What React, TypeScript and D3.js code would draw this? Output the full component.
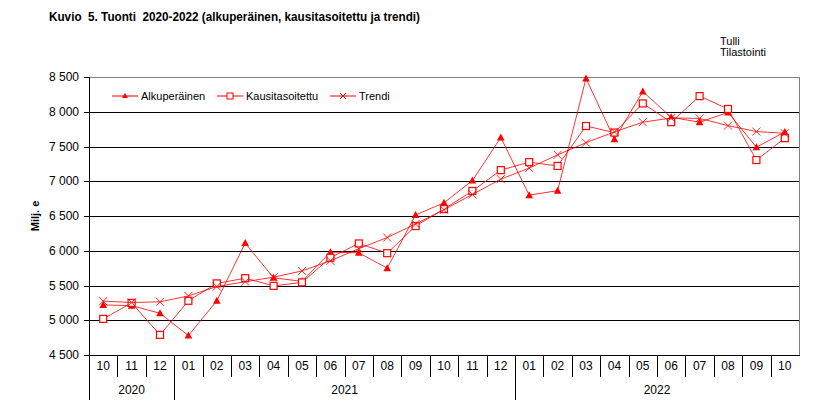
import { useMemo } from 'react';
import * as d3 from 'd3';

const months = ["10", "11", "12", "01", "02", "03", "04", "05", "06", "07", "08", "09", "10", "11", "12", "01", "02", "03", "04", "05", "06", "07", "08", "09", "10"];
const years = [
  { label: "2020", count: 3 },
  { label: "2021", count: 12 },
  { label: "2022", count: 10 },
];
const alkuperainen = [5220, 5210, 5100, 4780, 5280, 6110, 5610, 5560, 5980, 5970, 5750, 6515, 6690, 7010, 7630, 6800, 6865, 8480, 7605, 8290, 7920, 7850, 7990, 7490, 7710];
const kausitasoitettu = [5020, 5250, 4790, 5280, 5530, 5605, 5495, 5545, 5900, 6105, 5965, 6355, 6600, 6860, 7160, 7275, 7220, 7795, 7700, 8120, 7850, 8225, 8040, 7305, 7620];
const trendi = [5275, 5255, 5265, 5350, 5485, 5555, 5620, 5710, 5855, 6030, 6190, 6385, 6590, 6810, 7030, 7190, 7380, 7555, 7710, 7850, 7910, 7905, 7800, 7715, 7690];
const yTicks = [4500, 5000, 5500, 6000, 6500, 7000, 7500, 8000, 8500];

const W = 832;
const H = 416;
const left = 89;
const right = 799;
const top = 77;
const bottom = 355;
const RED = '#ff0000';
const FONT = 'Liberation Sans, Arial, sans-serif';

const fi = d3.formatLocale({ decimal: ',', thousands: '\u00a0', grouping: [3], currency: ['', ' €'] });
const fmt = fi.format(',');

function Marker({ type, x, y }: { type: string; x: number; y: number }) {
  if (type === 'tri') {
    return <path d={`M${x},${y - 4}L${x + 3.8},${y + 3}L${x - 3.8},${y + 3}Z`} fill={RED} />;
  }
  if (type === 'sq') {
    return <rect x={x - 3.5} y={y - 3.5} width={7} height={7} fill="white" stroke={RED} strokeWidth={1.2} />;
  }
  return <path d={`M${x - 4},${y - 4}L${x + 4},${y + 4}M${x - 4},${y + 4}L${x + 4},${y - 4}`} stroke={RED} strokeWidth={1} opacity={0.85} />;
}

export default function App() {
  const x = useMemo(() => d3.scaleBand<number>().domain(d3.range(months.length)).range([left, right]), []);
  const y = useMemo(() => d3.scaleLinear().domain([4500, 8500]).range([bottom, top]), []);
  const cx = (i: number) => (x(i) as number) + x.bandwidth() / 2;
  const line = d3.line<number>().x((_, i) => cx(i)).y(d => y(d));

  const series = [
    { name: 'Alkuperäinen', data: alkuperainen, marker: 'tri' },
    { name: 'Kausitasoitettu', data: kausitasoitettu, marker: 'sq' },
    { name: 'Trendi', data: trendi, marker: 'x' },
  ];
  const legendX = [112, 217, 330];

  let acc = 0;
  const yearBlocks = years.map(yr => {
    const start = acc;
    acc += yr.count;
    return { ...yr, x0: x(start) as number, x1: start + yr.count >= months.length ? right : (x(start + yr.count) as number) };
  });

  return (
    <svg width={W} height={H} style={{ position: 'absolute', left: 0, top: 0, background: 'white' }} fontFamily={FONT}>
      <text x={49} y={21} fontSize={12} fontWeight="bold" textLength={371} lengthAdjust="spacingAndGlyphs" style={{ whiteSpace: 'pre' }}>
        {'Kuvio  5. Tuonti  2020-2022 (alkuperäinen, kausitasoitettu ja trendi)'}
      </text>
      <text x={720} y={45} fontSize={11}>Tulli</text>
      <text x={720} y={56} fontSize={11}>Tilastointi</text>

      {/* plot border and grid */}
      <line x1={left} x2={right} y1={top + 0.5} y2={top + 0.5} stroke="#808080" />
      <line x1={right + 0.5} x2={right + 0.5} y1={top} y2={bottom} stroke="#808080" />
      {yTicks.map(t => (
        <g key={t}>
          {t > 4500 && t < 8500 && <line x1={left} x2={right} y1={Math.round(y(t)) + 0.5} y2={Math.round(y(t)) + 0.5} stroke="black" />}
          <line x1={left - 5} x2={left} y1={Math.round(y(t)) + 0.5} y2={Math.round(y(t)) + 0.5} stroke="black" />
          <text x={79} y={y(t) + 4} fontSize={12} textAnchor="end">{fmt(t)}</text>
        </g>
      ))}
      <line x1={left + 0.5} x2={left + 0.5} y1={top} y2={400} stroke="black" />
      <line x1={left} x2={right + 1} y1={bottom + 0.5} y2={bottom + 0.5} stroke="black" />
      <text transform={`translate(39,${(top + bottom) / 2}) rotate(-90)`} fontSize={11} fontWeight="bold" textAnchor="middle">Milj. e</text>

      {/* x axis */}
      {months.map((m, i) => (
        <g key={i}>
          {i > 0 && <line x1={Math.round(x(i) as number) + 0.5} x2={Math.round(x(i) as number) + 0.5} y1={bottom} y2={377} stroke="black" />}
          <text x={cx(i)} y={370} fontSize={12} textAnchor="middle">{m}</text>
        </g>
      ))}
      {yearBlocks.map((b, i) => (
        <g key={b.label}>
          {i > 0 && <line x1={Math.round(b.x0) + 0.5} x2={Math.round(b.x0) + 0.5} y1={bottom} y2={400} stroke="black" />}
          <text x={(b.x0 + b.x1) / 2} y={394} fontSize={12} textAnchor="middle">{b.label}</text>
        </g>
      ))}

      {/* series */}
      {series.map(s => (
        <g key={s.name}>
          <path d={line(s.data) as string} fill="none" stroke={RED} strokeWidth={1} opacity={0.8} />
          {s.data.map((v, i) => <Marker key={i} type={s.marker} x={cx(i)} y={y(v)} />)}
        </g>
      ))}

      {/* legend */}
      {series.map((s, i) => (
        <g key={s.name} transform={`translate(${legendX[i]},96)`}>
          <line x1={0} x2={26} y1={0} y2={0} stroke={RED} />
          {s.marker === 'tri' ? (
            <path d="M13,-3L16,2L10,2Z" fill={RED} />
          ) : s.marker === 'sq' ? (
            <rect x={10} y={-3} width={6} height={6} fill="white" stroke={RED} />
          ) : (
            <path d="M10,-3L16,3M10,3L16,-3" stroke={RED} />
          )}
          <text x={29} y={4} fontSize={11}>{s.name}</text>
        </g>
      ))}
    </svg>
  );
}
